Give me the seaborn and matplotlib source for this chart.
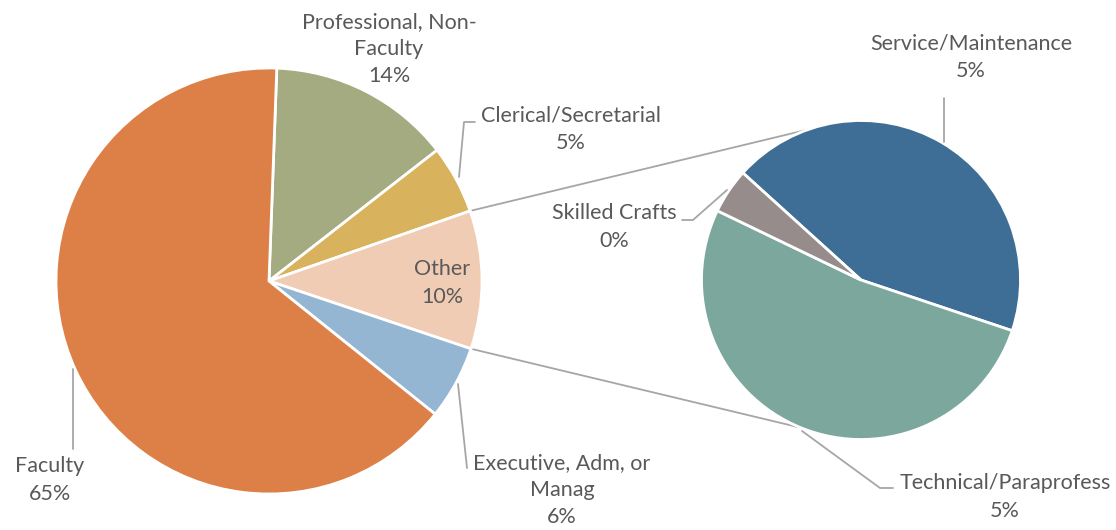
import numpy as np
import matplotlib
matplotlib.use("Agg")
import matplotlib.pyplot as plt
import seaborn as sns

# main pie, clockwise from the top
main_labels = ["Professional, Non-\nFaculty", "Clerical/Secretarial", "Other",
               "Executive, Adm, or\nManag", "Faculty"]
main_values = [13.9, 5.2, 10.5, 5.6, 64.9]
main_colors = ["#A5AB81", "#D8B25C", "#F1CCB5", "#94B6D2", "#DD8047"]

# breakdown of "Other"
sub_labels = ["Service/Maintenance", "Technical/Paraprofess", "Skilled Crafts"]
sub_values = [4.56, 5.46, 0.48]
sub_colors = ["#3E6E96", "#7BA79D", "#968C8C"]

sns.set_theme(style="white")
plt.rcParams['font.family'] = ['Lato', 'DejaVu Sans']

W, H = 1116, 530
fig = plt.figure(figsize=(W / 100, H / 100), dpi=100)
ax = fig.add_axes([0, 0, 1, 1])

txt_color = "#595959"
line_color = "#A6A6A6"


def Y(y):
    # picture rows -> data y
    return H - y


c1 = (269, Y(281))
r1 = 213
c2 = (861, Y(280))
r2 = 159.5

wedges1, _ = ax.pie(main_values, colors=main_colors, startangle=87.9, counterclock=False,
                    center=c1, radius=r1,
                    wedgeprops=dict(edgecolor="white", linewidth=2))
wedges2, _ = ax.pie(sub_values, colors=sub_colors, startangle=137.8, counterclock=False,
                    center=c2, radius=r2,
                    wedgeprops=dict(edgecolor="white", linewidth=2))

ax.set_xlim(0, W)
ax.set_ylim(0, H)
ax.set_aspect("equal")
ax.axis("off")

# lines joining "Other" to the second pie
w = wedges1[2]
a_top, a_bot = np.radians(w.theta2), np.radians(w.theta1)
p_top = (c1[0] + r1 * np.cos(a_top), c1[1] + r1 * np.sin(a_top))
p_bot = (c1[0] + r1 * np.cos(a_bot), c1[1] + r1 * np.sin(a_bot))
b_top, b_bot = np.radians(109.3), np.radians(247.9)
q_top = (c2[0] + r2 * np.cos(b_top), c2[1] + r2 * np.sin(b_top))
q_bot = (c2[0] + r2 * np.cos(b_bot), c2[1] + r2 * np.sin(b_bot))
ax.plot([p_top[0], q_top[0]], [p_top[1], q_top[1]], color=line_color, lw=1.3, zorder=0)
ax.plot([p_bot[0], q_bot[0]], [p_bot[1], q_bot[1]], color=line_color, lw=1.3, zorder=0)


def pct(v):
    return f"{round(v / sum(main_values) * 100):.0f}%"


main_pos = [(389, 49), (571, 129), (442, 283), (562, 490), (50, 480)]
for lab, v, (x, y) in zip(main_labels, main_values, main_pos):
    ax.text(x, Y(y), lab + "\n" + pct(v), ha="center", va="center", fontsize=15.5,
            color=txt_color, linespacing=1.45)

sub_pos = [(971, 57), (1005, 497), (614, 227)]
for lab, v, (x, y) in zip(sub_labels, sub_values, sub_pos):
    ax.text(x, Y(y), lab + "\n" + pct(v), ha="center", va="center", fontsize=15.5,
            color=txt_color, linespacing=1.45)

# leader lines
leaders = [
    [(459, 177), (464, 122), (475, 122)],
    [(458, 384), (467, 468)],
    [(73, 369), (73, 449)],
    [(944, 98), (944, 142)],
    [(682, 220), (693, 220), (727, 190)],
    [(802, 431), (880, 488), (893, 488)],
]
for pts in leaders:
    xs = [p[0] for p in pts]
    ys = [Y(p[1]) for p in pts]
    ax.plot(xs, ys, color=line_color, lw=1.3)

fig.savefig("out.png", dpi=100)
